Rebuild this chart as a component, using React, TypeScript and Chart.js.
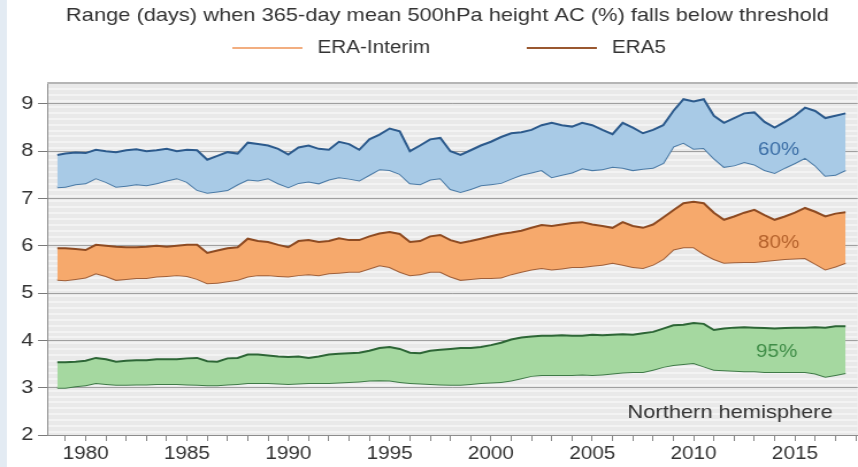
import React, { useEffect, useRef } from 'react';
import { Chart, registerables } from 'chart.js';

Chart.register(...registerables);

// ---------------- data ----------------
const YEARS = [
  1978.6,
  1979, 1979.5, 1980, 1980.5, 1981, 1981.5, 1982, 1982.5, 1983, 1983.5, 1984, 1984.5, 1985, 1985.5, 1986, 1986.5, 1987, 1987.5, 1988, 1988.5,
  1989, 1989.5, 1990, 1990.5, 1991, 1991.5, 1992, 1992.5, 1993, 1993.5, 1994, 1994.5, 1995, 1995.5, 1996, 1996.5, 1997, 1997.5, 1998, 1998.5,
  1999, 1999.5, 2000, 2000.5, 2001, 2001.5, 2002, 2002.5, 2003, 2003.5, 2004, 2004.5, 2005, 2005.5, 2006, 2006.5, 2007, 2007.5, 2008, 2008.5,
  2009, 2009.5, 2010, 2010.5, 2011, 2011.5, 2012, 2012.5, 2013, 2013.5, 2014, 2014.5, 2015, 2015.5, 2016, 2016.5, 2017, 2017.5,
];

const ERA5_60_UPPER = [
  7.92,
  7.95, 7.97, 7.96, 8.03, 8.0, 7.98, 8.02, 8.04, 8.0, 8.02, 8.05, 8.0, 8.03, 8.02, 7.82, 7.9, 7.98, 7.95, 8.18, 8.15,
  8.12, 8.05, 7.93, 8.08, 8.12, 8.05, 8.03, 8.2, 8.15, 8.03, 8.25, 8.35, 8.48, 8.42, 8.0, 8.12, 8.25, 8.28, 8.0, 7.92,
  8.02, 8.12, 8.2, 8.3, 8.38, 8.4, 8.45, 8.55, 8.6, 8.55, 8.52, 8.6, 8.55, 8.45, 8.36, 8.6, 8.5, 8.38, 8.45, 8.55,
  8.85, 9.1, 9.05, 9.1, 8.75, 8.6, 8.7, 8.8, 8.82, 8.62, 8.5, 8.62, 8.75, 8.92, 8.85, 8.7, 8.75, 8.8,
];
const ERA5_60_LOWER = [
  7.24,
  7.25, 7.3, 7.32, 7.43, 7.35, 7.25, 7.27, 7.3, 7.28, 7.32, 7.38, 7.43, 7.35, 7.18, 7.12, 7.15, 7.18, 7.3, 7.4, 7.38,
  7.43, 7.32, 7.24, 7.33, 7.36, 7.32, 7.4, 7.45, 7.42, 7.38, 7.5, 7.62, 7.6, 7.52, 7.32, 7.3, 7.4, 7.43, 7.2, 7.14,
  7.2, 7.28, 7.3, 7.33, 7.42, 7.5, 7.55, 7.6, 7.45, 7.5, 7.55, 7.64, 7.6, 7.62, 7.67, 7.65, 7.6, 7.63, 7.65, 7.75,
  8.1, 8.18, 8.05, 8.07, 7.85, 7.67, 7.7, 7.77, 7.72, 7.6, 7.54, 7.65, 7.75, 7.86, 7.7, 7.48, 7.5, 7.6,
];
const ERA5_80_UPPER = [
  5.95,
  5.95, 5.93, 5.91, 6.02, 6.0, 5.98, 5.97, 5.97, 5.98, 6.0, 5.98, 6.0, 6.02, 6.02, 5.85, 5.9, 5.95, 5.97, 6.15, 6.1,
  6.08, 6.02, 5.97, 6.1, 6.12, 6.08, 6.1, 6.16, 6.12, 6.12, 6.2, 6.26, 6.29, 6.25, 6.08, 6.1, 6.2, 6.23, 6.12, 6.06,
  6.1, 6.15, 6.2, 6.25, 6.28, 6.32, 6.38, 6.44, 6.42, 6.45, 6.48, 6.5, 6.45, 6.42, 6.38, 6.5, 6.42, 6.38, 6.45, 6.6,
  6.75, 6.9, 6.93, 6.9, 6.7, 6.55, 6.62, 6.7, 6.76, 6.65, 6.55, 6.62, 6.7, 6.8, 6.72, 6.62, 6.68, 6.71,
];
const ERA5_80_LOWER = [
  5.28,
  5.27, 5.3, 5.33, 5.42, 5.36, 5.28, 5.3, 5.32, 5.32, 5.35, 5.36, 5.38, 5.36, 5.3, 5.21, 5.22, 5.25, 5.28, 5.35, 5.38,
  5.38, 5.36, 5.35, 5.38, 5.4, 5.38, 5.42, 5.43, 5.45, 5.45, 5.52, 5.59, 5.55, 5.45, 5.38, 5.4, 5.45, 5.45, 5.35, 5.28,
  5.3, 5.32, 5.32, 5.33, 5.4, 5.45, 5.5, 5.53, 5.5, 5.52, 5.55, 5.55, 5.58, 5.6, 5.64, 5.6, 5.55, 5.53, 5.6, 5.72,
  5.92, 5.97, 5.97, 5.83, 5.72, 5.64, 5.65, 5.66, 5.66, 5.68, 5.7, 5.72, 5.73, 5.74, 5.62, 5.5, 5.56, 5.64,
];
const ERA5_95_UPPER = [
  3.54,
  3.54, 3.55, 3.57, 3.63, 3.6, 3.55, 3.57, 3.58, 3.58, 3.6, 3.6, 3.6, 3.62, 3.63, 3.56, 3.55, 3.62, 3.63, 3.7, 3.7,
  3.68, 3.66, 3.65, 3.66, 3.63, 3.66, 3.7, 3.72, 3.73, 3.74, 3.78, 3.84, 3.86, 3.82, 3.74, 3.73, 3.78, 3.8, 3.82, 3.84,
  3.84, 3.86, 3.9, 3.95, 4.02, 4.06, 4.08, 4.1, 4.1, 4.11, 4.1, 4.1, 4.12, 4.11, 4.12, 4.13, 4.12, 4.15, 4.18, 4.25,
  4.32, 4.33, 4.37, 4.35, 4.22, 4.25, 4.27, 4.28, 4.27, 4.26, 4.25, 4.26, 4.27, 4.27, 4.28, 4.27, 4.3, 4.3,
];
const ERA5_95_LOWER = [
  3.0,
  3.0, 3.03, 3.05, 3.1, 3.08, 3.06, 3.06, 3.07, 3.07, 3.08, 3.08, 3.08, 3.07, 3.06, 3.05, 3.05, 3.07, 3.08, 3.1, 3.1,
  3.1, 3.09, 3.08, 3.09, 3.1, 3.1, 3.1, 3.11, 3.12, 3.13, 3.15, 3.16, 3.15, 3.12, 3.1, 3.09, 3.08, 3.07, 3.06, 3.06,
  3.08, 3.1, 3.11, 3.12, 3.15, 3.2, 3.25, 3.27, 3.27, 3.27, 3.27, 3.28, 3.27, 3.28, 3.3, 3.32, 3.33, 3.33, 3.38, 3.44,
  3.48, 3.5, 3.52, 3.45, 3.38, 3.37, 3.36, 3.35, 3.35, 3.33, 3.33, 3.33, 3.33, 3.33, 3.3, 3.23, 3.27, 3.31,
];

const Y_TICKS = [2, 3, 4, 5, 6, 7, 8, 9];
const X_TICK_YEARS = [
  1979, 1980, 1981, 1982, 1983, 1984, 1985, 1986, 1987, 1988, 1989, 1990, 1991, 1992, 1993, 1994, 1995, 1996, 1997, 1998,
  1999, 2000, 2001, 2002, 2003, 2004, 2005, 2006, 2007, 2008, 2009, 2010, 2011, 2012, 2013, 2014, 2015, 2016, 2017, 2018,
];
const X_LABEL_YEARS = [1980, 1985, 1990, 1995, 2000, 2005, 2010, 2015];

const TITLE = 'Range (days) when 365-day mean 500hPa height AC (%) falls below threshold';
const LEGEND_LABELS = ['ERA-Interim', 'ERA5'];
const BAND_LABELS = [
  { text: '60%', x: 2014.2, y: 8.03, color: '#3b6ea6' },
  { text: '80%', x: 2014.2, y: 6.06, color: '#b5622c' },
  { text: '95%', x: 2014.1, y: 3.75, color: '#3f8d47' },
];
const REGION_LABEL = { text: 'Northern hemisphere', x: 2011.8, y: 2.48 };

// ---------------- layout ----------------
const W = 858;
const H = 467;
const STRETCH = 1.15;
const IW = Math.round(W / STRETCH);
const FONT = '"Liberation Sans", Arial, Helvetica, sans-serif';

const pts = (arr: number[]) => YEARS.map((x, i) => ({ x, y: arr[i] }));

const backgroundPlugin = {
  id: 'bg',
  beforeDraw(chart: any) {
    const { ctx, chartArea, scales } = chart;
    ctx.save();
    ctx.fillStyle = '#ffffff';
    ctx.fillRect(0, 0, chart.width, chart.height);
    ctx.fillStyle = '#e3ebf3';
    ctx.fillRect(0, 0, 6, chart.height);
    ctx.fillStyle = '#e9e9e9';
    ctx.fillRect(chartArea.left, chartArea.top, chartArea.right - chartArea.left, chartArea.bottom - chartArea.top);
    ctx.strokeStyle = '#f3f3f3';
    ctx.lineWidth = 2;
    const y = scales.y;
    for (let v = 2.0625; v < y.max; v += 0.125) {
      const py = Math.round(y.getPixelForValue(v));
      ctx.beginPath();
      ctx.moveTo(chartArea.left, py);
      ctx.lineTo(chartArea.right, py);
      ctx.stroke();
    }
    ctx.restore();
  },
  afterDraw(chart: any) {
    const { ctx, chartArea } = chart;
    ctx.save();
    ctx.strokeStyle = '#b5b5b5';
    ctx.lineWidth = 2;
    ctx.beginPath();
    ctx.moveTo(chartArea.left, chartArea.top + 1);
    ctx.lineTo(chartArea.right, chartArea.top + 1);
    ctx.stroke();
    ctx.restore();
  },
};

const textPlugin = {
  id: 'texts',
  afterDatasetsDraw(chart: any) {
    const { ctx, scales } = chart;
    ctx.save();
    ctx.textAlign = 'center';
    ctx.textBaseline = 'middle';
    ctx.font = `18px ${FONT}`;
    BAND_LABELS.forEach((b) => {
      ctx.fillStyle = b.color;
      ctx.fillText(b.text, scales.x.getPixelForValue(b.x), scales.y.getPixelForValue(b.y));
    });
    ctx.font = `19px ${FONT}`;
    ctx.fillStyle = '#333333';
    ctx.fillText(REGION_LABEL.text, scales.x.getPixelForValue(REGION_LABEL.x), scales.y.getPixelForValue(REGION_LABEL.y));
    ctx.restore();
  },
  afterDraw(chart: any) {
    const { ctx } = chart;
    ctx.save();
    ctx.fillStyle = '#333333';
    ctx.textBaseline = 'middle';
    ctx.textAlign = 'center';
    ctx.font = `19px ${FONT}`;
    ctx.fillText(TITLE, 389, 16);
    // legend
    ctx.textAlign = 'left';
    ctx.font = `18px ${FONT}`;
    const items = [
      { label: LEGEND_LABELS[0], color: '#f2ae80', x0: 202, x1: 263, tx: 276 },
      { label: LEGEND_LABELS[1], color: '#9a5830', x0: 458, x1: 519, tx: 532 },
    ];
    items.forEach((it) => {
      ctx.strokeStyle = it.color;
      ctx.lineWidth = 2;
      ctx.beginPath();
      ctx.moveTo(it.x0, 48);
      ctx.lineTo(it.x1, 48);
      ctx.stroke();
      ctx.fillStyle = '#333333';
      ctx.fillText(it.label, it.tx, 48);
    });
    ctx.restore();
  },
};

export default function App() {
  const ref = useRef<HTMLCanvasElement | null>(null);

  useEffect(() => {
    document.body.style.margin = '0';
    const canvas = ref.current;
    if (!canvas) return;

    const band = (upper: number[], lower: number[], fill: string, cu: string, cl: string) => [
      {
        data: pts(upper),
        borderColor: cu,
        borderWidth: 2,
        backgroundColor: fill,
        fill: '+1',
        pointRadius: 0,
        tension: 0,
      },
      {
        data: pts(lower),
        borderColor: cl,
        borderWidth: 2,
        backgroundColor: fill,
        fill: false,
        pointRadius: 0,
        tension: 0,
      },
    ];

    const chart = new Chart(canvas, {
      type: 'line',
      data: {
        datasets: [
          ...band(ERA5_60_UPPER, ERA5_60_LOWER, '#a8cae6', '#2c5a8c', '#4a7aa6'),
          ...band(ERA5_80_UPPER, ERA5_80_LOWER, '#f6a96c', '#8e4b22', '#a0603a'),
          ...band(ERA5_95_UPPER, ERA5_95_LOWER, '#a5d8a0', '#2d6636', '#3f7a47'),
        ] as any,
      },
      plugins: [backgroundPlugin, textPlugin],
      options: {
        responsive: false,
        animation: false,
        devicePixelRatio: 1,
        layout: { padding: { top: 82, left: 0, right: 0, bottom: 0 } },
        plugins: {
          legend: { display: false },
          title: { display: false },
          tooltip: { enabled: false },
        },
        scales: {
          x: {
            type: 'linear',
            min: 1978.1,
            max: 2018.1,
            afterBuildTicks: (s: any) => {
              s.ticks = X_TICK_YEARS.map((v) => ({ value: v }));
            },
            afterFit: (s: any) => {
              s.height = 467 - 435;
            },
            ticks: {
              autoSkip: false,
              maxRotation: 0,
              minRotation: 0,
              padding: 2,
              color: '#333333',
              font: { family: FONT, size: 18 },
              callback: (v: any) => (X_LABEL_YEARS.includes(Number(v)) ? String(v) : ''),
            },
            grid: { drawOnChartArea: false, tickLength: 6, tickColor: '#888888', lineWidth: 1 },
            border: { color: '#8c8c8c', width: 1 },
          },
          y: {
            type: 'linear',
            min: 2,
            max: 2 + (435 - 82) / 47.3,
            afterBuildTicks: (s: any) => {
              s.ticks = Y_TICKS.map((v) => ({ value: v }));
            },
            afterFit: (s: any) => {
              s.width = 41;
            },
            ticks: {
              padding: 4,
              color: '#333333',
              font: { family: FONT, size: 19 },
            },
            grid: { color: '#a0a0a0', lineWidth: 1, tickLength: 8, tickColor: '#7a7a7a' },
            border: { color: '#8c8c8c', width: 1 },
          },
        },
      },
    });
    return () => chart.destroy();
  }, []);

  return (
    <canvas
      ref={ref}
      width={IW}
      height={H}
      style={{ width: `${W}px`, height: `${H}px`, display: 'block' }}
    />
  );
}
